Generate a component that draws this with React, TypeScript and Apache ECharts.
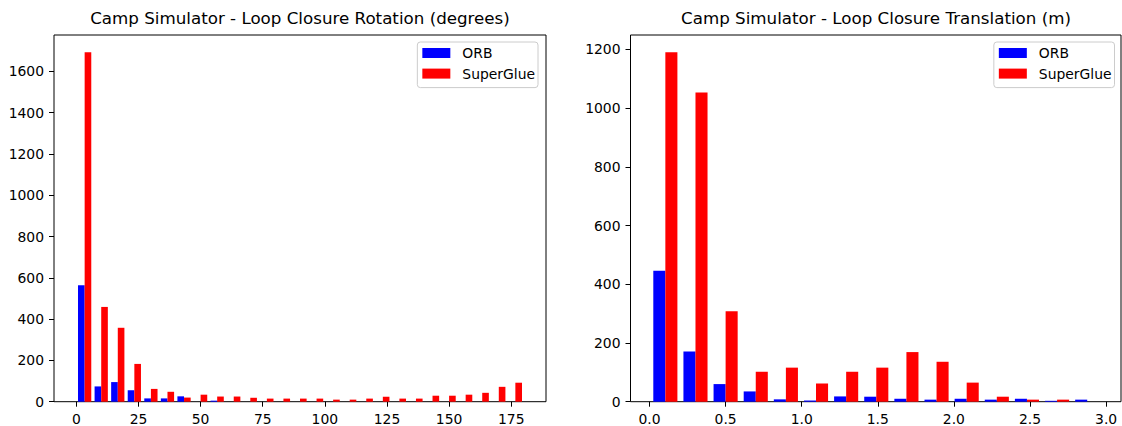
import React, { useEffect, useRef } from "react";
import * as echarts from "echarts";

// ---- Rotation histogram (degrees), 27 bins over 0..180 ----
const rotationBinStart = 0;
const rotationBinWidth = 180 / 27;
const rotationOrb = [564, 74, 95, 56, 16, 16, 26, 0, 5, 0, 0, 0, 0, 0, 0, 0, 0, 0, 0, 0, 0, 0, 0, 0, 0, 0, 0];
const rotationSuperGlue = [1692, 459, 358, 183, 62, 48, 20, 34, 25, 25, 19, 15, 15, 15, 15, 10, 10, 15, 24, 15, 15, 29, 29, 34, 43, 72, 92];
const rotationXTicks = [0, 25, 50, 75, 100, 125, 150, 175];
const rotationYTicks = [0, 200, 400, 600, 800, 1000, 1200, 1400, 1600];

// ---- Translation histogram (m), 15 bins ----
const translationBinStart = 0.005;
const translationBinWidth = 0.198;
const translationOrb = [446, 171, 60, 35, 8, 4, 18, 17, 10, 7, 10, 7, 10, 3, 7];
const translationSuperGlue = [1190, 1053, 308, 102, 116, 62, 102, 116, 169, 136, 65, 17, 7, 7, 0];
const translationXTicks = [0, 0.5, 1, 1.5, 2, 2.5, 3];
const translationYTicks = [0, 200, 400, 600, 800, 1000, 1200];

const seriesNames = ["ORB", "SuperGlue"];
const titles = [
  "Camp Simulator - Loop Closure Rotation (degrees)",
  "Camp Simulator - Loop Closure Translation (m)",
];

const BLUE = "#0000ff";
const RED = "#ff0000";
const FONT = "DejaVu Sans";

function histData(start: number, w: number, values: number[], slot: number) {
  // matplotlib side-by-side: each bar 0.4 of bin width, starting at 0.1
  return values.map((v, i) => {
    const left = start + i * w + 0.1 * w + slot * 0.4 * w;
    return [left, left + 0.4 * w, v];
  });
}

function makeRender(color: string) {
  return (params: any, api: any) => {
    const x0 = api.value(0);
    const x1 = api.value(1);
    const y = api.value(2);
    const p0 = api.coord([x0, y]);
    const p1 = api.coord([x1, 0]);
    return {
      type: "rect",
      shape: { x: p0[0], y: p0[1], width: p1[0] - p0[0], height: p1[1] - p0[1] },
      style: { fill: color },
    };
  };
}

export default function App() {
  const ref = useRef<HTMLDivElement>(null);
  useEffect(() => {
    if (!ref.current) return;
    const chart = echarts.init(ref.current, undefined, { renderer: "svg" });

    const axisLabelBase = { fontFamily: FONT, fontSize: 13.9, color: "#000", margin: 10 };
    const tickBase = { show: true, length: 5, inside: false, lineStyle: { color: "#000", width: 1 } };

    const xAxisCommon = (min: number, max: number, ticks: number[], fmt: (v: number) => string, gi: number) => ({
      type: "value",
      gridIndex: gi,
      position: "bottom",
      min,
      max,
      axisLine: { show: false, onZero: false },
      splitLine: { show: false },
      axisTick: { ...tickBase, customValues: ticks },
      axisLabel: { ...axisLabelBase, customValues: ticks, formatter: fmt },
    });
    const yAxisCommon = (max: number, ticks: number[], gi: number) => ({
      type: "value",
      gridIndex: gi,
      position: "left",
      min: 0,
      max,
      axisLine: { show: false, onZero: false },
      splitLine: { show: false },
      axisTick: { ...tickBase, customValues: ticks },
      axisLabel: { ...axisLabelBase, customValues: ticks, formatter: (v: number) => String(v) },
    });

    const legendBase = {
      orient: "vertical",
      data: seriesNames,
      top: 42,
      itemWidth: 28,
      itemHeight: 10,
      itemGap: 6.6,
      icon: "rect",
      padding: [4, 3, 7, 5],
      backgroundColor: "rgba(255,255,255,0.8)",
      borderColor: "#cccccc",
      borderWidth: 1,
      borderRadius: 3,
      selectedMode: false,
      textStyle: { fontFamily: FONT, fontSize: 13.9, color: "#000", lineHeight: 14, padding: [0, 0, 0, 7] },
    };

    const option: any = {
      animation: false,
      backgroundColor: "#ffffff",
      title: [
        {
          text: titles[0],
          left: 300,
          top: 9,
          textAlign: "center",
          padding: 0,
          textStyle: { fontFamily: FONT, fontSize: 16.7, fontWeight: "normal", color: "#000" },
        },
        {
          text: titles[1],
          left: 876,
          top: 9,
          textAlign: "center",
          padding: 0,
          textStyle: { fontFamily: FONT, fontSize: 16.7, fontWeight: "normal", color: "#000" },
        },
      ],
      legend: [
        { ...legendBase, right: 1122 - 538 },
        { ...legendBase, right: 1122 - 1114.5 },
      ],
      grid: [
        {
          left: 54, top: 35, width: 492, height: 366.7,
          show: true, borderColor: "#000", borderWidth: 1, backgroundColor: "transparent",
          containLabel: false, outerBoundsMode: "none",
        },
        {
          left: 630.5, top: 35, width: 490.5, height: 366.7,
          show: true, borderColor: "#000", borderWidth: 1, backgroundColor: "transparent",
          containLabel: false, outerBoundsMode: "none",
        },
      ],
      xAxis: [
        xAxisCommon(-9, 189, rotationXTicks, (v: number) => String(v), 0),
        xAxisCommon(-0.125, 3.098, translationXTicks, (v: number) => v.toFixed(1), 1),
      ],
      yAxis: [yAxisCommon(1776, rotationYTicks, 0), yAxisCommon(1249, translationYTicks, 1)],
      series: [
        {
          name: seriesNames[0], type: "custom", xAxisIndex: 0, yAxisIndex: 0,
          itemStyle: { color: BLUE }, encode: { x: [0, 1], y: 2 },
          data: histData(rotationBinStart, rotationBinWidth, rotationOrb, 0),
          renderItem: makeRender(BLUE),
        },
        {
          name: seriesNames[1], type: "custom", xAxisIndex: 0, yAxisIndex: 0,
          itemStyle: { color: RED }, encode: { x: [0, 1], y: 2 },
          data: histData(rotationBinStart, rotationBinWidth, rotationSuperGlue, 1),
          renderItem: makeRender(RED),
        },
        {
          name: seriesNames[0], type: "custom", xAxisIndex: 1, yAxisIndex: 1,
          itemStyle: { color: BLUE }, encode: { x: [0, 1], y: 2 },
          data: histData(translationBinStart, translationBinWidth, translationOrb, 0),
          renderItem: makeRender(BLUE),
        },
        {
          name: seriesNames[1], type: "custom", xAxisIndex: 1, yAxisIndex: 1,
          itemStyle: { color: RED }, encode: { x: [0, 1], y: 2 },
          data: histData(translationBinStart, translationBinWidth, translationSuperGlue, 1),
          renderItem: makeRender(RED),
        },
      ],
    };
    chart.setOption(option);
    return () => chart.dispose();
  }, []);

  return (
    <div
      ref={ref}
      style={{ position: "fixed", left: 0, top: 0, width: 1122, height: 426, background: "#fff" }}
    />
  );
}
